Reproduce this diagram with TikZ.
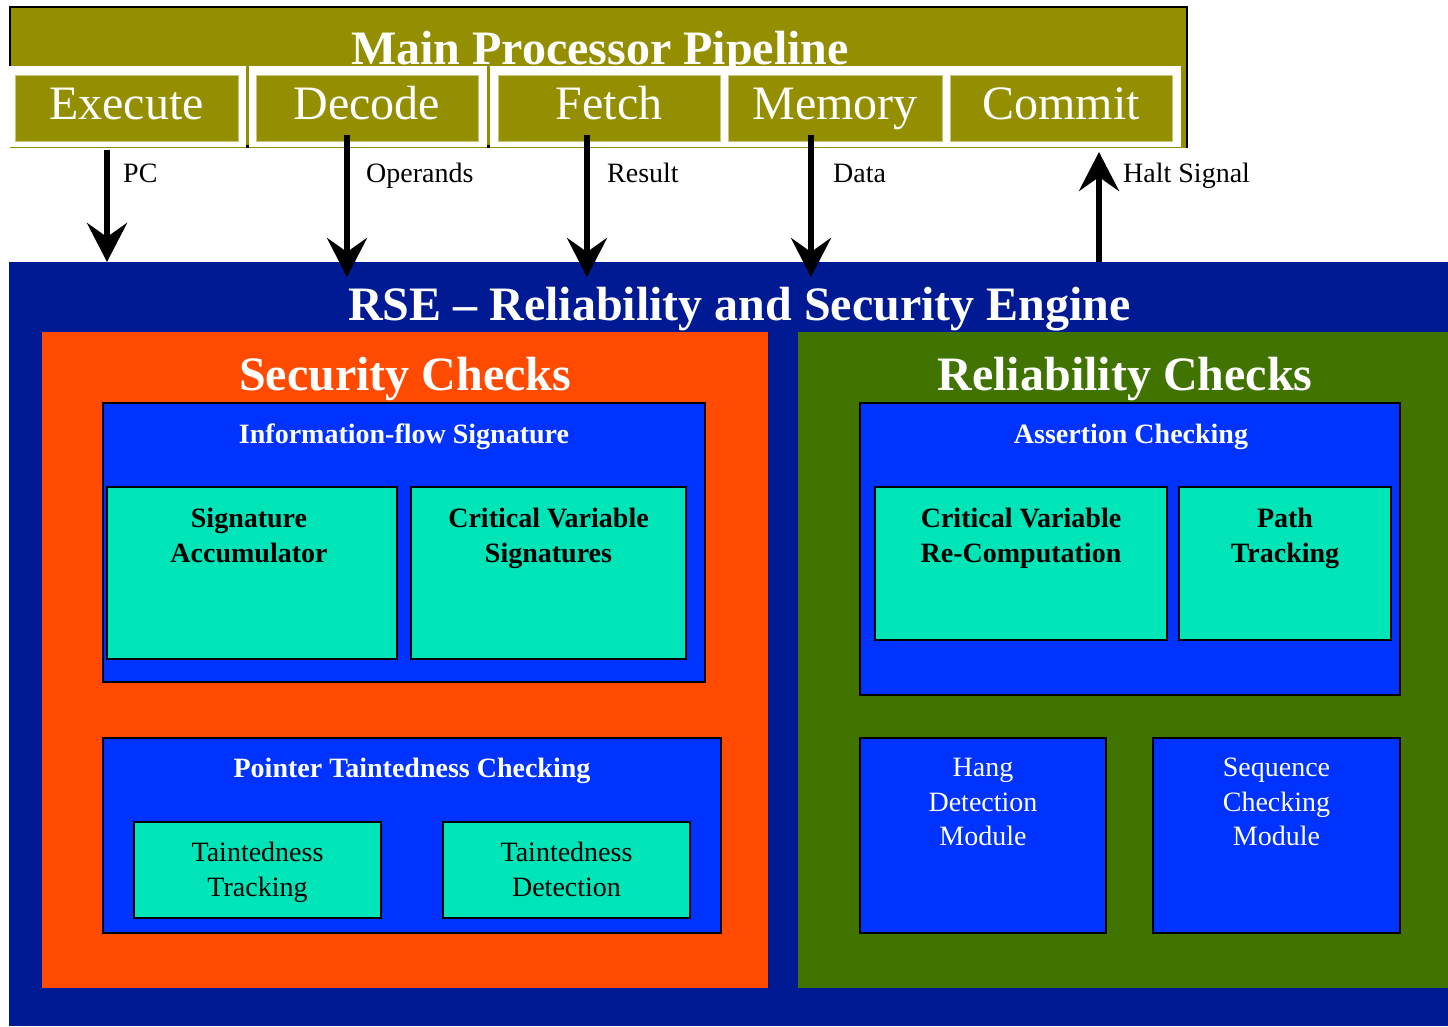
\documentclass[tikz,border=0pt]{standalone}
\usepackage{fontspec}
\setmainfont{Liberation Serif}
\usetikzlibrary{arrows.meta,calc}
\definecolor{olivebar}{HTML}{948F00}
\definecolor{oliveedge}{HTML}{C9C57A}
\definecolor{rseblue}{HTML}{001A93}
\definecolor{secorange}{HTML}{FF4A00}
\definecolor{relgreen}{HTML}{407300}
\definecolor{boxblue}{HTML}{0033FF}
\definecolor{tealbox}{HTML}{00E5B8}
\begin{document}
\begin{tikzpicture}[x=1pt,y=-1pt,
  box/.style={anchor=north west, inner sep=0pt, outer sep=0pt},
  stagebox/.style={box, fill=olivebar, draw=oliveedge, line width=1pt, minimum height=66pt,
    font=\fontsize{48}{56}\selectfont, text=white, text height=34pt, text depth=12pt},
  bigbox/.style={box},
  bluebox/.style={box, fill=boxblue, draw=black, line width=2.5pt},
  tealnode/.style={box, fill=tealbox, draw=black, line width=2pt},
  bigtitle/.style={anchor=base, inner sep=0pt, text=white, font=\fontsize{48}{56}\selectfont\bfseries},
  subtitle/.style={anchor=base, inner sep=0pt, text=white, font=\fontsize{28}{34}\selectfont\bfseries},
  boldtext/.style={anchor=north, inner sep=0pt, align=center, text=black, font=\fontsize{28}{35}\selectfont\bfseries},
  plaintext/.style={anchor=north, inner sep=0pt, align=center, font=\fontsize{28}{34.5}\selectfont},
  lbl/.style={anchor=base west, inner sep=0pt, text=black, font=\fontsize{28}{34}\selectfont},
  arr/.style={line width=6pt, -{Stealth[length=39pt,width=40pt,inset=14pt]}}
]
\path[use as bounding box, fill=white] (0,0) rectangle (1448,1026);

% ---- main processor pipeline frame ----
\fill[olivebar] (10,7) rectangle (1187,148);
\fill[white] (9,66) rectangle (246,147);
\fill[white] (249,66) rectangle (487,147);
\fill[white] (490,66) rectangle (1181,147);
\draw[black, line width=2pt] (10,66) -- (10,7) -- (1187,7) -- (1187,148);
\fill[black] (246,145) rectangle (249,148);
\fill[black] (487,145) rectangle (490,148);
\node[bigtitle] (pipeline) at (600,64) {Main Processor Pipeline};

\node[stagebox, minimum width=223pt] (execute) at (15,75) {Execute};
\node[stagebox, minimum width=222pt] (decode) at (256,75) {Decode};
\node[stagebox, minimum width=222pt] (fetch) at (498,75) {Fetch};
\node[stagebox, minimum width=214pt] (memory) at (728,75) {Memory};
\node[stagebox, minimum width=222pt] (commit) at (950,75) {Commit};

% ---- RSE ----
\node[bigbox, fill=rseblue, minimum width=1439pt, minimum height=764pt] (rse) at (9,262) {};
\node[bigtitle] (rsetitle) at ($(rse.north)+(11,58)$) {RSE -- Reliability and Security Engine};

% ---- arrows ----
\coordinate (pcs) at ($(execute.south)+(-19.5,9)$);
\coordinate (ops) at ($(decode.south)+(-20,-6)$);
\coordinate (ress) at ($(fetch.south)+(-22,-6)$);
\coordinate (datas) at ($(memory.south)+(-24,-6)$);
\coordinate (halte) at ($(commit.south)+(38,11)$);
\coordinate (opse) at ($(ops |- rse.north)+(0,15)$);
\coordinate (rese) at ($(ress |- rse.north)+(0,15)$);
\coordinate (datae) at ($(datas |- rse.north)+(0,15)$);
\draw[arr] (pcs) -- (pcs |- rse.north);
\draw[arr] (ops) -- (opse);
\draw[arr] (ress) -- (rese);
\draw[arr] (datas) -- (datae);
\draw[arr] (halte |- rse.north) -- (halte);
\node[lbl] (pclbl) at (123,182) {PC};
\node[lbl] (oplbl) at (366,182) {Operands};
\node[lbl] (reslbl) at (607,182) {Result};
\node[lbl] (datalbl) at (833,182) {Data};
\node[lbl] (haltlbl) at (1123,182) {Halt Signal};

% ---- Security checks ----
\node[bigbox, fill=secorange, minimum width=726pt, minimum height=656pt] (sec) at (42,332) {};
\node[bigtitle] (sectitle) at ($(sec.north)+(0,58)$) {Security Checks};

\node[bluebox, minimum width=602pt, minimum height=279pt] (info) at (103,403) {};
\node[subtitle] (infotitle) at ($(info.north)+(0,40)$) {Information-flow Signature};
\node[tealnode, minimum width=290pt, minimum height=172pt] (sacc) at (107,487) {};
\node[boldtext] (sacct) at ($(sacc.north)+(-3,21)$) {Signature\\Accumulator};
\node[tealnode, minimum width=275pt, minimum height=172pt] (cvs) at (411,487) {};
\node[boldtext] (cvst) at ($(cvs.north)+(0,21)$) {Critical Variable\\Signatures};

\node[bluebox, minimum width=618pt, minimum height=195pt] (ptc) at (103,738) {};
\node[subtitle] (ptctitle) at ($(ptc.north)+(0,39)$) {Pointer Taintedness Checking};
\node[tealnode, minimum width=247pt, minimum height=96pt] (tt) at (134,822) {};
\node[plaintext] (ttt) at ($(tt.north)+(0,20)$) {Taintedness\\Tracking};
\node[tealnode, minimum width=247pt, minimum height=96pt] (td) at (443,822) {};
\node[plaintext] (tdt) at ($(td.north)+(0,20)$) {Taintedness\\Detection};

% ---- Reliability checks ----
\node[bigbox, fill=relgreen, minimum width=650pt, minimum height=656pt] (rel) at (798,332) {};
\node[bigtitle] (reltitle) at ($(rel.north)+(2,58)$) {Reliability Checks};

\node[bluebox, minimum width=540pt, minimum height=292pt] (asrt) at (860,403) {};
\node[subtitle] (asrttitle) at ($(asrt.north)+(1,40)$) {Assertion Checking};
\node[tealnode, minimum width=292pt, minimum height=153pt] (cvr) at (875,487) {};
\node[boldtext] (cvrt) at ($(cvr.north)+(0,21)$) {Critical Variable\\Re-Computation};
\node[tealnode, minimum width=212pt, minimum height=153pt] (path) at (1179,487) {};
\node[boldtext] (patht) at ($(path.north)+(0,21)$) {Path\\Tracking};

\node[bluebox, minimum width=246pt, minimum height=195pt] (hang) at (860,738) {};
\node[plaintext, text=white] (hangt) at ($(hang.north)+(0,20)$) {Hang\\Detection\\Module};
\node[bluebox, minimum width=247pt, minimum height=195pt] (seq) at (1153,738) {};
\node[plaintext, text=white] (seqt) at ($(seq.north)+(0,20)$) {Sequence\\Checking\\Module};
\end{tikzpicture}
\end{document}
